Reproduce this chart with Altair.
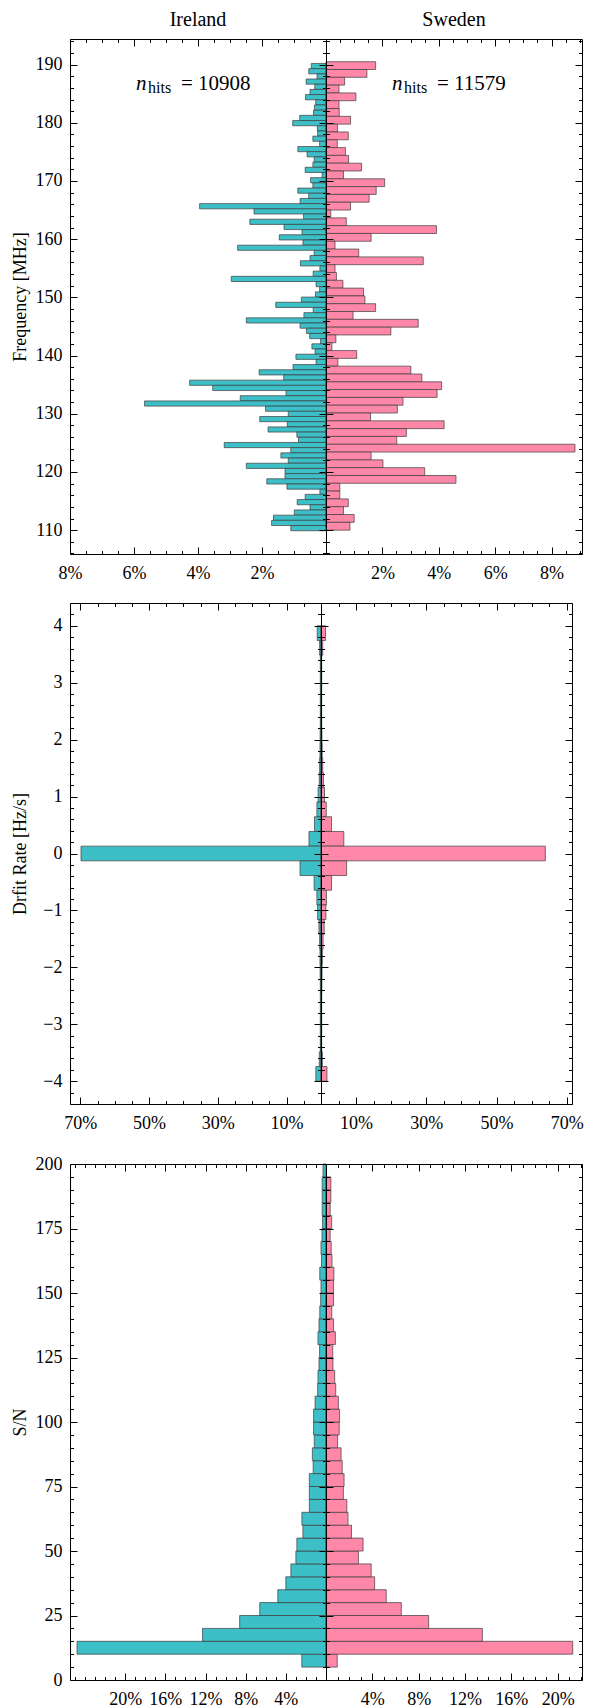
import altair as alt
import pandas as pd

FONT = "Liberation Serif"
TEAL = "#3DBFC8"
PINK = "#FF87A8"
EDGE = "#3c3c3c"
MAJ, MIN = 7, 3.5

COUNTRIES = ["Ireland", "Sweden"]
N_HITS = [10908, 11579]

# ---- Frequency histograms: % of hits per bin, listed from the highest bin downwards
FREQ_IRELAND = [0.46, 0.54, 0.28, 0.62, 0.35, 0.50, 0.64, 0.32, 0.36, 0.39,
                0.82, 1.04, 0.27, 0.26, 0.41, 0.20, 0.88, 0.59, 0.37, 0.41,
                0.65, 0.12, 0.48, 0.41, 0.88, 0.54, 0.81, 3.95, 2.25, 0.70,
                2.38, 1.31, 0.75, 1.46, 0.72, 2.76, 0.37, 0.50, 0.80, 0.19,
                0.40, 2.96, 0.31, 0.20, 0.33, 0.77, 1.57, 0.40, 0.69, 2.49,
                0.81, 0.61, 0.51, 0.17, 0.44, 0.34, 0.94, 0.31, 1.03, 2.09,
                1.32, 4.26, 3.54, 1.25, 2.68, 5.67, 1.89, 1.18, 2.07, 1.21,
                1.81, 0.91, 0.86, 3.18, 1.10, 1.41, 1.18, 2.49, 1.28, 1.28,
                1.85, 1.22, 0.19, 0.65, 0.90, 0.50, 0.99, 1.64, 1.70, 1.10]
FREQ_SWEDEN = [1.76, 1.45, 0.66, 0.46, 1.06, 0.46, 0.47, 0.87, 0.41, 0.79,
               0.40, 0.69, 0.80, 1.26, 0.62, 2.08, 1.78, 1.53, 0.87, 0.17,
               0.72, 3.92, 1.60, 0.32, 1.16, 3.45, 0.32, 0.37, 0.60, 1.33,
               1.38, 1.76, 0.96, 3.27, 2.30, 0.35, 0.21, 1.09, 0.42, 3.01,
               3.40, 4.10, 3.94, 2.73, 2.53, 1.58, 4.19, 2.85, 2.51, 8.83,
               1.60, 2.02, 3.50, 4.61, 0.49, 0.49, 0.79, 0.62, 1.00, 0.85]
FREQ_IRELAND_RANGE = (109.9, 190.2)
FREQ_SWEDEN_RANGE = (110.0, 190.5)

# ---- Drift rate histograms: % per bin, from +4 Hz/s downwards (31 bins)
DRIFT_IRELAND = [1.1, 0.4, 0.2, 0.2, 0.2, 0.2, 0.2, 0.25, 0.3, 0.4, 0.5,
                 0.85, 1.2, 1.9, 3.5, 69.8, 6.1, 2.0, 1.2, 1.0, 0.6,
                 0.4, 0.3, 0.25, 0.2, 0.2, 0.2, 0.2, 0.2, 0.5, 1.5]
DRIFT_SWEDEN = [1.3, 0.5, 0.2, 0.2, 0.2, 0.2, 0.2, 0.25, 0.35, 0.5, 0.7,
                1.0, 1.5, 3.0, 6.5, 63.9, 7.3, 3.0, 1.55, 1.4, 0.9,
                0.6, 0.4, 0.3, 0.25, 0.2, 0.2, 0.2, 0.2, 0.4, 1.7]
DRIFT_RANGE = (-4.0, 4.0)

# ---- S/N histograms: % per bin of width 5, from S/N = 5 upwards
SNR_IRELAND = [2.41, 24.8, 12.3, 8.6, 6.6, 4.8, 4.0, 3.5, 3.0, 2.9,
               2.3, 2.4, 1.66, 1.66, 1.66, 1.28, 1.36, 1.17, 1.24, 1.24,
               1.09, 0.83, 0.8, 0.7, 0.64, 0.8, 0.7, 0.62, 0.53, 0.5,
               0.62, 0.45, 0.5, 0.4, 0.34, 0.38, 0.38, 0.38, 0.3]
SNR_SWEDEN = [0.97, 21.3, 13.5, 8.86, 6.5, 5.2, 4.2, 3.9, 2.8, 3.2,
              2.2, 1.9, 1.8, 1.5, 1.56, 1.4, 1.3, 1.0, 1.14, 1.17,
              1.07, 0.84, 0.75, 0.6, 0.58, 0.81, 0.65, 0.5, 0.65, 0.65,
              0.68, 0.52, 0.45, 0.36, 0.49, 0.36, 0.42, 0.42, 0.0]
SNR_RANGE = (5.0, 200.0)

# ---- axis limits and tick values
FREQ_YDOM = [105.9, 194.4]
FREQ_XDOM_L, FREQ_XDOM_R = [0, 8.0], [0, 9.08]
FREQ_Y_MAJOR = list(range(110, 191, 10))
FREQ_Y_MINOR = [v for v in range(106, 195, 2) if v % 10]
FREQ_X_MAJOR = [2, 4, 6, 8]
FREQ_X_MINOR = [v / 2 for v in range(1, 19) if v % 4]

DRIFT_YDOM = [-4.4, 4.4]
DRIFT_XDOM_L, DRIFT_XDOM_R = [0, 73.0], [0, 71.5]
DRIFT_Y_MAJOR = list(range(-4, 5))
DRIFT_Y_MINOR = [round(v * 0.2, 1) for v in range(-22, 23) if v % 5]
DRIFT_X_MAJOR = [10, 30, 50, 70]
DRIFT_X_MINOR = [v for v in range(5, 75, 5) if v not in (10, 30, 50, 70)]

SNR_YDOM = [0, 200]
SNR_XDOM_L, SNR_XDOM_R = [0, 25.5], [0, 22.1]
SNR_Y_MAJOR = list(range(0, 201, 25))
SNR_Y_MINOR = [v for v in range(5, 200, 5) if v % 25]
SNR_X_MAJOR = [4, 8, 12, 16, 20]
SNR_X_MINOR = [v for v in range(1, 27) if v % 4 or v > 20]

Y_EXTENT = 36      # room for y tick labels
Y_TITLE_PAD = 5


def hist_frame(values, lo, hi, descending):
    n = len(values)
    w = (hi - lo) / n
    rows = []
    for i, v in enumerate(values):
        if descending:
            b = hi - i * w
            a = b - w
        else:
            a = lo + i * w
            b = a + w
        rows.append({"base": 0.0, "pct": v, "y1": a, "y2": b})
    df = pd.DataFrame(rows)
    return df[df["pct"] > 0]


def inside(vals, dom):
    lo, hi = min(dom), max(dom)
    return [v for v in vals if lo <= v <= hi]


def axis(orient, values, size, dom=False, labels=False, title=None, xaxis=True):
    kw = dict(orient=orient, values=values, grid=False, ticks=True,
              tickSize=alt.ExprRef(expr=str(-size)), tickColor="black",
              tickWidth=1, domain=dom, labels=labels, zindex=2, title=title)
    if dom:
        kw.update(domainColor="black", domainWidth=1)
    if labels:
        kw.update(labelFont=FONT, labelFontSize=18, labelColor="black",
                  labelFlush=False, labelOverlap=False,
                  labelPadding=size + (10 if xaxis else 8))
        if xaxis:
            kw["labelExpr"] = "datum.value + '%'"
        else:
            kw.update(minExtent=Y_EXTENT, maxExtent=Y_EXTENT)
    else:
        kw.update(minExtent=0, maxExtent=0)
    if title:
        kw.update(titleFont=FONT, titleFontSize=18, titleFontWeight="normal",
                  titleColor="black", titlePadding=Y_TITLE_PAD)
    return alt.Axis(**kw)


def half(df, color, xdom, reverse, ydom, xmaj, xmin, ymaj, ymin, is_left,
         w, h, ytitle=None, extras=()):
    xs = alt.Scale(domain=xdom, reverse=reverse, nice=False, zero=False)
    ys = alt.Scale(domain=ydom, nice=False, zero=False)
    xmaj, xmin = inside(xmaj, xdom), inside(xmin, xdom)
    ymaj, ymin = inside(ymaj, ydom), inside(ymin, ydom)
    bars = alt.Chart(df).mark_rect(fill=color, stroke=EDGE, strokeWidth=0.7).encode(
        x=alt.X("base:Q", scale=xs, axis=axis("bottom", xmaj, MAJ, dom=True, labels=True)),
        x2="pct:Q",
        y=alt.Y("y1:Q", scale=ys,
                axis=axis("left", ymaj, MAJ, dom=True, labels=is_left, title=ytitle, xaxis=False)),
        y2="y2:Q",
    )
    ghost = alt.Chart(df).mark_point(opacity=0, size=1)
    l2 = ghost.encode(
        x=alt.X("pct:Q", scale=xs, axis=axis("bottom", xmin, MIN)),
        y=alt.Y("y1:Q", scale=ys, axis=axis("left", ymin, MIN, xaxis=False)))
    l3 = ghost.encode(
        x=alt.X("pct:Q", scale=xs, axis=axis("top", xmaj, MAJ, dom=True)),
        y=alt.Y("y1:Q", scale=ys, axis=axis("right", ymaj, MAJ, dom=True, xaxis=False)))
    l4 = ghost.encode(
        x=alt.X("pct:Q", scale=xs, axis=axis("top", xmin, MIN)),
        y=alt.Y("y1:Q", scale=ys, axis=axis("right", ymin, MIN, xaxis=False)))
    return alt.layer(bars, l2, l3, l4, *extras).resolve_axis(
        x="independent", y="independent").properties(width=w, height=h)


def header_layers(country, n, w):
    d = pd.DataFrame({"country": [country], "sym": ["n"], "sub": ["hits"],
                      "val": [f"= {n}"]})
    base = alt.Chart(d)
    t0 = base.mark_text(font=FONT, fontSize=20, align="center",
                        baseline="alphabetic", color="black").encode(
        x=alt.value(w / 2), y=alt.value(-13), text="country:N")
    t1 = base.mark_text(font=FONT, fontSize=21, fontStyle="italic", align="left",
                        baseline="alphabetic", color="black").encode(
        x=alt.value(66), y=alt.value(51), text="sym:N")
    t2 = base.mark_text(font=FONT, fontSize=16, align="left",
                        baseline="alphabetic", color="black").encode(
        x=alt.value(78), y=alt.value(54), text="sub:N")
    t3 = base.mark_text(font=FONT, fontSize=21, align="left",
                        baseline="alphabetic", color="black").encode(
        x=alt.value(111), y=alt.value(51), text="val:N")
    return [t0, t1, t2, t3]


# panel sizes: the whole figure has to stay inside the 576 px wide page body
W1, H1 = 256, 515
W2L, W2R, H2 = 251, 251, 501
W3, H3 = 256, 516

f_ie = hist_frame(FREQ_IRELAND, *FREQ_IRELAND_RANGE, descending=True)
f_se = hist_frame(FREQ_SWEDEN, *FREQ_SWEDEN_RANGE, descending=True)
d_ie = hist_frame(DRIFT_IRELAND, *DRIFT_RANGE, descending=True)
d_se = hist_frame(DRIFT_SWEDEN, *DRIFT_RANGE, descending=True)
s_ie = hist_frame(SNR_IRELAND, *SNR_RANGE, descending=False)
s_se = hist_frame(SNR_SWEDEN, *SNR_RANGE, descending=False)

L1 = half(f_ie, TEAL, FREQ_XDOM_L, True, FREQ_YDOM, FREQ_X_MAJOR, FREQ_X_MINOR,
          FREQ_Y_MAJOR, FREQ_Y_MINOR, True, W1, H1, ytitle="Frequency [MHz]",
          extras=header_layers(COUNTRIES[0], N_HITS[0], W1))
R1 = half(f_se, PINK, FREQ_XDOM_R, False, FREQ_YDOM, FREQ_X_MAJOR, FREQ_X_MINOR,
          FREQ_Y_MAJOR, FREQ_Y_MINOR, False, W1, H1,
          extras=header_layers(COUNTRIES[1], N_HITS[1], W1))
L2 = half(d_ie, TEAL, DRIFT_XDOM_L, True, DRIFT_YDOM, DRIFT_X_MAJOR, DRIFT_X_MINOR,
          DRIFT_Y_MAJOR, DRIFT_Y_MINOR, True, W2L, H2, ytitle="Drfit Rate [Hz/s]")
R2 = half(d_se, PINK, DRIFT_XDOM_R, False, DRIFT_YDOM, DRIFT_X_MAJOR, DRIFT_X_MINOR,
          DRIFT_Y_MAJOR, DRIFT_Y_MINOR, False, W2R, H2)
L3 = half(s_ie, TEAL, SNR_XDOM_L, True, SNR_YDOM, SNR_X_MAJOR, SNR_X_MINOR,
          SNR_Y_MAJOR, SNR_Y_MINOR, True, W3, H3, ytitle="S/N")
R3 = half(s_se, PINK, SNR_XDOM_R, False, SNR_YDOM, SNR_X_MAJOR, SNR_X_MINOR,
          SNR_Y_MAJOR, SNR_Y_MINOR, False, W3, H3)

row1 = alt.hconcat(L1, R1, spacing=0, bounds="flush")
row2 = alt.hconcat(L2, R2, spacing=0, bounds="flush")
row3 = alt.hconcat(L3, R3, spacing=0, bounds="flush")

chart = alt.vconcat(alt.vconcat(row1, row2, spacing=20), row3, spacing=23,
                    padding={"left": 3, "top": 2, "right": 0, "bottom": 0},
                    background="white").configure_view(strokeWidth=0)

chart.save("out.html", embed_options={"renderer": "svg", "actions": False})
